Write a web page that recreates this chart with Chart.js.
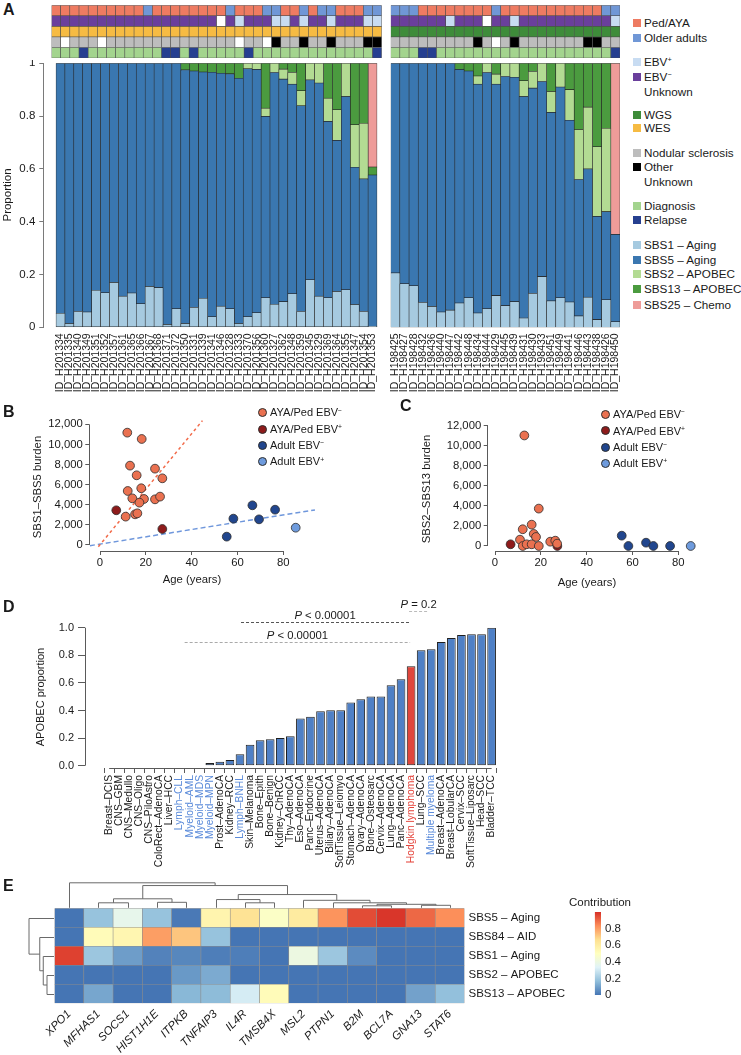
<!DOCTYPE html>
<html>
<head>
<meta charset="utf-8">
<title>Mutational signatures in Hodgkin lymphoma</title>
<script src="https://cdn.jsdelivr.net/npm/chart.js@4/dist/chart.umd.min.js"></script>
<style>
  body { margin: 0; background: #fff; }
  #page { position: relative; width: 741px; height: 1055px; overflow: hidden;
          font-family: "Liberation Sans", Arial, Helvetica, sans-serif; color: #1a1a1a; }
  #page canvas { position: absolute; }
  .t { position: absolute; white-space: nowrap; line-height: 1; }
  .t sup { font-size: 0.62em; vertical-align: 0; position: relative; top: -0.55em; }
  .sw { position: absolute; width: 8px; height: 8px; }
  .dot { position: absolute; width: 9px; height: 9px; border-radius: 50%;
         border: 0.8px solid #2d2d2d; box-sizing: border-box; }
</style>
</head>
<body>
<div id="page"></div>
<script>
// ---------- A: signature proportions per sample ----------
const leftIds = ['ID_H201334','ID_H201335','ID_H201340','ID_H201349','ID_H201351','ID_H201352','ID_H201357','ID_H201361','ID_H201365','ID_H201366','ID_H201367','ID_H201368','ID_H201371','ID_H201372','ID_H201350','ID_H201331','ID_H201339','ID_H201341','ID_H201346','ID_H201328','ID_H201333','ID_H201370','ID_H201356','ID_H201360','ID_H201327','ID_H201362','ID_H201348','ID_H201359','ID_H201345','ID_H201329','ID_H201369','ID_H201364','ID_H201355','ID_H201347','ID_H201354','ID_H201353'];
const leftSBS1  = [0.053,0.014,0.060,0.058,0.140,0.131,0.170,0.118,0.130,0.089,0.155,0.150,0.011,0.070,0.014,0.075,0.110,0.040,0.080,0.070,0.014,0.040,0.055,0.112,0.087,0.097,0.127,0.060,0.180,0.118,0.112,0.136,0.142,0.086,0.060,0.004];
const leftSBS5  = [0.947,0.986,0.940,0.942,0.860,0.869,0.830,0.882,0.870,0.911,0.845,0.850,0.989,0.930,0.961,0.896,0.857,0.926,0.882,0.890,0.929,0.939,0.922,0.687,0.878,0.843,0.794,0.779,0.757,0.807,0.668,0.572,0.732,0.520,0.502,0.573];
const leftSBS2  = [0,0,0,0,0,0,0,0,0,0,0,0,0,0,0,0,0,0,0,0,0,0.021,0.023,0.031,0.035,0.038,0.044,0.057,0.063,0.075,0.088,0.116,0.126,0.161,0.211,0];
const leftSBS13 = [0,0,0,0,0,0,0,0,0,0,0,0,0,0,0.025,0.029,0.033,0.034,0.038,0.040,0.057,0,0,0.170,0,0.022,0.035,0.104,0,0,0.132,0.176,0,0.233,0.227,0.030];
const leftSBS25 = [0,0,0,0,0,0,0,0,0,0,0,0,0,0,0,0,0,0,0,0,0,0,0,0,0,0,0,0,0,0,0,0,0,0,0,0.393];

const rightIds = ['ID_H198425','ID_H198427','ID_H198428','ID_H198432','ID_H198436','ID_H198440','ID_H198447','ID_H198442','ID_H198448','ID_H198434','ID_H198444','ID_H198429','ID_H198445','ID_H198439','ID_H198431','ID_H198430','ID_H198433','ID_H198451','ID_H198449','ID_H198441','ID_H198446','ID_H198443','ID_H198438','ID_H198426','ID_H198450'];
const rightSBS1  = [0.206,0.165,0.157,0.094,0.079,0.058,0.065,0.092,0.112,0.054,0.070,0.120,0.082,0.097,0.035,0.128,0.192,0.100,0.112,0.096,0.043,0.114,0.029,0.104,0.021];
const rightSBS5  = [0.794,0.835,0.843,0.906,0.921,0.942,0.935,0.885,0.859,0.867,0.895,0.801,0.868,0.850,0.839,0.778,0.739,0.714,0.798,0.688,0.517,0.486,0.391,0.334,0.331];
const rightSBS2  = [0,0,0,0,0,0,0,0,0,0.031,0.035,0.038,0.050,0.053,0.060,0.063,0.069,0.079,0.090,0.116,0.189,0.234,0.264,0.316,0];
const rightSBS13 = [0,0,0,0,0,0,0,0.023,0.029,0.048,0,0.041,0,0,0.066,0.031,0,0.107,0,0.100,0.251,0.166,0.316,0.246,0];
const rightSBS25 = [0,0,0,0,0,0,0,0,0,0,0,0,0,0,0,0,0,0,0,0,0,0,0,0,0.648];

// annotation tracks, one letter per sample
// age: P = Ped/AYA, O = older adult; ebv: n = EBV-, p = EBV+, u = unknown
// seq: E = WES, G = WGS; hist: n = nodular sclerosis, o = other, u = unknown; time: d = diagnosis, r = relapse
const leftAge  = 'PPPPPPPPPPOPPPPPPPPOPPPOOPPOPOOPPPOO';
const leftEbv  = 'nnnnnnnnnnnnnnnnnnunpnnnppnpnnpnnnpp';
const leftSeq  = 'EEEEEEEEEEEEEEEEEEEEEEEEEEEEEEEEEEEE';
const leftHist = 'nunnnunnnnnnnnnnnnnnunnuonnonnonnnoo';
const leftTime = 'dddrddddddddrrdrdddddrdddddddddddddr';
const rightAge  = 'OOOPPPPPPPPOPPPPPPPPPPPOO';
const rightEbv  = 'nnnnnnpnnnunnpnnnnnnnnnnp';
const rightSeq  = 'GGGGGGGGGGGGGGGGGGGGGGGGG';
const rightHist = 'nnnnnnnnnonunonnnnnnnoonn';
const rightTime = 'dddrrdddddddddddddddddddr';

// ---------- B / C: burden vs age ----------
const bAyaNegAge = [11.9,18.2,13.1,16,24,27.2,18,12.1,14.1,19.2,17.2,24,26.2,11.2,15.3,16.3];
const bAyaNegVal = [11170,10540,7890,6930,7590,6630,5640,5370,4640,4575,4210,4540,4810,2820,3050,3150];
const bAyaPosAge = [7.1,27.2];
const bAyaPosVal = [3450,1590];
const bAdultNegAge = [55.3,58.2,66.5,69.4,76.4];
const bAdultNegVal = [830,2620,3945,2550,3510];
const bAdultPosAge = [85.4];
const bAdultPosVal = [1720];
const bAyaFitAge = [-0.7,44.7];
const bAyaFitVal = [-165,12365];
const bAdultFitAge = [-4.4,93.8];
const bAdultFitVal = [-66,3480];

const cAyaNegAge = [12.8,19.1,16,12.1,16.9,17.9,10.9,12.1,13.8,16,19.1,24.1,26.3,27.1];
const cAyaNegVal = [11030,3730,2130,1670,1200,900,630,0,170,170,0,430,530,230];
const cAyaPosAge = [6.8,27.2];
const cAyaPosVal = [170,0];
const cAdultNegAge = [55.3,58.2,65.9,69.1,76.4];
const cAdultNegVal = [1030,0,330,0,0];
const cAdultPosAge = [85.4];
const cAdultPosVal = [0];

const ageTicks = [0,20,40,60,80];
const burdenTicks = [0,2000,4000,6000,8000,10000,12000];

// ---------- D: APOBEC proportion by tumour type ----------
const dCats = ['Breast–DCIS','CNS–GBM','CNS–Medullo','CNS–Oligo','CNS–PiloAstro','ColoRect–AdenoCA','Liver–HCC','Lymph–CLL','Myeloid–AML','Myeloid–MDS','Myeloid–MPN','Prost–AdenoCA','Kidney–RCC','Lymph–BNHL','Skin–Melanoma','Bone–Epith','Bone–Benign','Kidney–ChRCC','Thy–AdenoCA','Eso–AdenoCA','Panc–Endocrine','Uterus–AdenoCA','Biliary–AdenoCA','SoftTissue–Leiomyo','Stomach–AdenoCA','Ovary–AdenoCA','Bone–Osteosarc','Cervix–AdenoCA','Lung–AdenoCA','Panc–AdenoCA','Hodgkin lymphoma','Lung–SCC','Multiple myeloma','Breast–AdenoCA','Breast–LobularCA','Cervix–SCC','SoftTissue–Liposarc','Head–SCC','Bladder–TCC'];
const dValues = [0,0,0,0,0,0,0,0,0,0,0.019,0.029,0.041,0.082,0.152,0.184,0.191,0.200,0.213,0.341,0.355,0.394,0.401,0.401,0.457,0.481,0.502,0.502,0.582,0.626,0.720,0.836,0.843,0.896,0.925,0.947,0.952,0.952,1.0];
// s = solid, m = haematological, h = Hodgkin lymphoma
const dType = 'sssssss' + 'mmmm' + 'ss' + 'm' + 'ssssssssssssssss' + 'h' + 's' + 'm' + 'ssssss';
const dTicks = [0,0.2,0.4,0.6,0.8,1.0];
const pLabel = ['P < 0.00001','P < 0.00001','P = 0.2'];
const pFrom  = [13.1,7.5,29.8];
const pTo    = [29.8,29.9,31.7];
const pLevel = [1.043,0.899,1.121];
const pColor = ['#555555','#aaaaaa','#bbbbbb'];

// ---------- E: contribution heatmap ----------
const genes = ['XPO1','MFHAS1','SOCS1','HIST1H1E','ITPKB','TNFAIP3','IL4R','TMSB4X','MSL2','PTPN1','B2M','BCL7A','GNA13','STAT6'];
const heatRows = ['SBS5 – Aging','SBS84 – AID','SBS1 – Aging','SBS2 – APOBEC','SBS13 – APOBEC'];
const hSBS5  = [0.00,0.18,0.37,0.18,0.01,0.56,0.65,0.48,0.61,0.82,0.95,0.99,0.90,0.83];
const hSBS84 = [0.00,0.52,0.55,0.80,0.72,0.18,0,0,0,0,0,0,0,0];
const hSBS1  = [0.97,0.19,0.09,0.03,0.04,0.02,0.02,0,0.40,0.19,0.05,0,0,0];
const hSBS2  = [0,0,0,0,0.08,0.12,0,0,0,0,0,0,0,0];
const hSBS13 = [0,0.11,0,0,0.15,0.16,0.31,0.52,0,0,0,0,0.10,0.17];
const legendTicks = [0,0.2,0.4,0.6,0.8];
// dendrograms, hclust style: negative = leaf (1-based), positive = earlier merge
const colMerges = [[-11,-12,0.08],[-13,-14,0.10],[1,2,0.14],[-10,3,0.20],[-9,4,0.30],[-7,-8,0.20],[-6,6,0.33],[7,5,0.53],[-2,-3,0.20],[-4,-5,0.22],[9,10,0.36],[11,8,0.89],[-1,12,1.0]];
const rowMerges = [[-4,-5,0.28],[-3,1,0.43],[-2,2,0.57],[-1,3,1.0]];

// ---------- styling ----------
const FONT = '"Liberation Sans", Arial, Helvetica, sans-serif';
Chart.defaults.font.family = FONT;
Chart.defaults.font.size = 11;
Chart.defaults.color = '#1a1a1a';
Chart.defaults.animation = false;
Chart.defaults.responsive = false;
Chart.defaults.devicePixelRatio = 1;
Chart.defaults.plugins.legend.display = false;
Chart.defaults.plugins.tooltip.enabled = false;

const sigCol = {SBS1:'#A6CAE0', SBS5:'#3A77B0', SBS2:'#B3DB93', SBS13:'#4B9B3F', SBS25:'#EE9C99'};
const ageCol = {P:'#EE7B62', O:'#7097D6'};
const ebvCol = {p:'#C8DCF2', n:'#6A3F9C', u:'#FFFFFF'};
const seqCol = {G:'#3E8C3A', E:'#F6BB43'};
const histCol = {n:'#BDBDBD', o:'#000000', u:'#FFFFFF'};
const timeCol = {d:'#A3D48E', r:'#263F90'};
const grpCol = {ayaNeg:'#EA7150', ayaPos:'#8E1B1B', adultNeg:'#21468E', adultPos:'#6E9BDD'};
const heatStops = ['#4575B4','#91BFDB','#E0F3F8','#FFFFBF','#FEE090','#FC8D59','#D73027'];

const page = document.getElementById('page');

function place(l, t, w, h) {
  const c = document.createElement('canvas');
  c.width = w; c.height = h;
  c.style.left = l + 'px'; c.style.top = t + 'px';
  c.style.width = w + 'px'; c.style.height = h + 'px';
  page.appendChild(c);
  return c;
}
// force an axis to a fixed thickness so the plot area lands where it should
function fit(size) {
  return s => {
    if (s.isHorizontal()) s.height = size; else s.width = size;
    s.paddingLeft = 0; s.paddingRight = 0; s.paddingTop = 0; s.paddingBottom = 0;
  };
}
function setTicks(vals) {
  return s => { s.ticks = vals.map(v => ({value: v})); };
}
const hiddenAxis = size => ({display: true, afterFit: fit(size), ticks: {display: false},
  grid: {display: false, drawTicks: false}, border: {display: false}});
const opts = (pad, scales, plugins) => ({
  responsive: false, animation: false, devicePixelRatio: 1,
  layout: {autoPadding: false, padding: pad},
  plugins: Object.assign({legend: {display: false}, tooltip: {enabled: false}}, plugins || {}),
  scales: scales
});

function hex(c) { return [1,3,5].map(i => parseInt(c.slice(i, i + 2), 16)); }
function heatColor(v) {
  const t = Math.max(0, Math.min(1, v)) * 6, i = Math.min(5, Math.floor(t)), f = t - i;
  const a = hex(heatStops[i]), b = hex(heatStops[i + 1]);
  return 'rgb(' + a.map((x, k) => Math.round(x + (b[k] - x) * f)).join(',') + ')';
}

// R style axis lines that run only from first to last tick
const rAxes = {
  id: 'rAxes',
  afterDraw(chart, args, o) {
    const {ctx, chartArea: a, scales: {x, y}} = chart;
    const al = p => Math.round(p - 0.5) + 0.5;
    ctx.save();
    ctx.strokeStyle = o.color || '#5a5a5a'; ctx.lineWidth = 1;
    ctx.beginPath();
    ctx.moveTo(x.getPixelForValue(o.x[0]), al(a.bottom)); ctx.lineTo(x.getPixelForValue(o.x[1]), al(a.bottom));
    ctx.moveTo(al(a.left), y.getPixelForValue(o.y[0])); ctx.lineTo(al(a.left), y.getPixelForValue(o.y[1]));
    ctx.stroke();
    ctx.restore();
  }
};

// ---------- panel A ----------
function sigSets(s1, s5, s2, s13, s25) {
  return [
    {label:'SBS1 – Aging', data:s1, backgroundColor:sigCol.SBS1},
    {label:'SBS5 – Aging', data:s5, backgroundColor:sigCol.SBS5},
    {label:'SBS2 – APOBEC', data:s2, backgroundColor:sigCol.SBS2},
    {label:'SBS13 – APOBEC', data:s13, backgroundColor:sigCol.SBS13},
    {label:'SBS25 – Chemo', data:s25, backgroundColor:sigCol.SBS25}
  ].map(d => Object.assign(d, {borderColor:'#262626', borderWidth:0.6, borderSkipped:false,
                               barPercentage:1, categoryPercentage:1}));
}
function trackSets(tracks) {
  const maps = [ageCol, ebvCol, seqCol, histCol, timeCol];
  return tracks.map((s, k) => ({
    data: s.split('').map(() => 1),
    backgroundColor: s.split('').map(c => maps[k][c]),
    borderColor: '#4d4d4d', borderWidth: 0.6, borderSkipped: false,
    barPercentage: 1, categoryPercentage: 1
  })).reverse();
}
const idTicks = {autoSkip:false, maxRotation:90, minRotation:90, padding:6, font:{size:10.5}};
const propTicks = [0,0.2,0.4,0.6,0.8,1];

// left cohort bars (linear x so the axis can stand off the first bar)
new Chart(place(0, 60, 386, 340), {
  type: 'bar',
  data: {labels: leftIds.map((_, i) => i), datasets: sigSets(leftSBS1, leftSBS5, leftSBS2, leftSBS13, leftSBS25)},
  options: opts({left:0, top:3.3, right:4.3, bottom:0}, {
    x: {type:'linear', stacked:true, min:-1.4, max:35.5, afterFit:fit(72.7), afterBuildTicks:setTicks(leftIds.map((_, i) => i)),
        grid:{display:false, drawTicks:false}, border:{display:false},
        ticks:Object.assign({callback: v => leftIds[v]}, idTicks)},
    y: {stacked:true, min:0, max:1, afterFit:fit(43.3), afterBuildTicks:setTicks(propTicks),
        grid:{drawOnChartArea:false, tickLength:4, color:'#7a7a7a'}, border:{color:'#7a7a7a'},
        ticks:{padding:4, font:{size:11.5}, callback: v => (v === 0 || v === 1) ? String(v) : v.toFixed(1)}}
  })
});
// right cohort bars
new Chart(place(386, 60, 240, 340), {
  type: 'bar',
  data: {labels: rightIds, datasets: sigSets(rightSBS1, rightSBS5, rightSBS2, rightSBS13, rightSBS25)},
  options: opts({left:0, top:3.3, right:6, bottom:0}, {
    x: {stacked:true, afterFit:fit(72.7), grid:{display:false, drawTicks:false}, border:{display:false}, ticks:idTicks},
    y: Object.assign({stacked:true, min:0, max:1}, hiddenAxis(4.7))
  })
});
// annotation tracks
new Chart(place(40, 0, 346, 60), {
  type: 'bar',
  data: {labels: leftIds, datasets: trackSets([leftAge, leftEbv, leftSeq, leftHist, leftTime])},
  options: opts({left:0, top:5.3, right:4.3, bottom:0}, {
    x: Object.assign({stacked:true}, hiddenAxis(2)),
    y: Object.assign({stacked:true, min:0, max:5}, hiddenAxis(11.5))
  })
});
new Chart(place(386, 0, 240, 60), {
  type: 'bar',
  data: {labels: rightIds, datasets: trackSets([rightAge, rightEbv, rightSeq, rightHist, rightTime])},
  options: opts({left:0, top:5.3, right:6, bottom:0}, {
    x: Object.assign({stacked:true}, hiddenAxis(2)),
    y: Object.assign({stacked:true, min:0, max:5}, hiddenAxis(4.7))
  })
});

// ---------- panels B and C ----------
const pts = (ages, vals, color) => ({
  data: ages.map((a, i) => ({x: a, y: vals[i]})), backgroundColor: color,
  borderColor: '#2d2d2d', borderWidth: 0.8, pointRadius: 4.4, order: 0
});
const fitLine = (ages, vals, color, dash) => ({
  data: ages.map((a, i) => ({x: a, y: vals[i]})), showLine: true, borderColor: color,
  borderDash: dash, borderWidth: 1.5, pointRadius: 0, order: 5
});
function burdenScales(xmin, xmax, ymin, ymax, yw) {
  return {
    x: {type:'linear', min:xmin, max:xmax, afterFit:fit(24), afterBuildTicks:setTicks(ageTicks),
        grid:{drawOnChartArea:false, tickLength:4, color:'#5a5a5a'}, border:{display:false},
        ticks:{padding:1, font:{size:11.3}}},
    y: {type:'linear', min:ymin, max:ymax, afterFit:fit(yw), afterBuildTicks:setTicks(burdenTicks),
        grid:{drawOnChartArea:false, tickLength:4, color:'#5a5a5a'}, border:{display:false},
        ticks:{padding:2.5, font:{size:11.3}, callback: v => v.toLocaleString('en-US')}}
  };
}
new Chart(place(0, 400, 330, 175), {
  type: 'scatter',
  data: {datasets: [
    fitLine(bAyaFitAge, bAyaFitVal, '#F26B4A', [3, 3]),
    fitLine(bAdultFitAge, bAdultFitVal, '#6F97DC', [5, 3]),
    pts(bAyaNegAge, bAyaNegVal, grpCol.ayaNeg),
    pts(bAyaPosAge, bAyaPosVal, grpCol.ayaPos),
    pts(bAdultNegAge, bAdultNegVal, grpCol.adultNeg),
    pts(bAdultPosAge, bAdultPosVal, grpCol.adultPos)
  ]},
  options: opts({left:0, top:15, right:10, bottom:0}, burdenScales(-4.67, 96, -597, 12925, 89.3),
                {rAxes: {x:[0, 80], y:[0, 12000]}}),
  plugins: [rAxes]
});
new Chart(place(400, 400, 320, 175), {
  type: 'scatter',
  data: {datasets: [
    pts(cAyaNegAge, cAyaNegVal, grpCol.ayaNeg),
    pts(cAyaPosAge, cAyaPosVal, grpCol.ayaPos),
    pts(cAdultNegAge, cAdultNegVal, grpCol.adultNeg),
    pts(cAdultPosAge, cAdultPosVal, grpCol.adultPos)
  ]},
  options: opts({left:0, top:15, right:20, bottom:0}, burdenScales(-3.19, 89.45, -500, 13070, 87.7),
                {rAxes: {x:[0, 80], y:[0, 12000]}}),
  plugins: [rAxes]
});

// ---------- panel D ----------
const pLines = {
  id: 'pLines',
  afterDraw(chart) {
    const {ctx, scales: {x, y}} = chart;
    const f = '11.3px ' + FONT;
    pLabel.forEach((lab, i) => {
      const x0 = x.getPixelForValue(pFrom[i]), x1 = x.getPixelForValue(pTo[i]);
      const yy = Math.round(y.getPixelForValue(pLevel[i])) + 0.5;
      ctx.save();
      ctx.strokeStyle = pColor[i]; ctx.lineWidth = 1; ctx.setLineDash([3, 2]);
      ctx.beginPath(); ctx.moveTo(x0, yy); ctx.lineTo(x1, yy); ctx.stroke();
      const rest = lab.slice(1);
      ctx.font = 'italic ' + f; const wP = ctx.measureText('P').width;
      ctx.font = f; const wR = ctx.measureText(rest).width;
      const xs = (x0 + x1) / 2 - (wP + wR) / 2;
      ctx.fillStyle = '#1a1a1a'; ctx.textBaseline = 'alphabetic';
      ctx.font = 'italic ' + f; ctx.fillText('P', xs, yy - 3.5);
      ctx.font = f; ctx.fillText(rest, xs + wP, yy - 3.5);
      ctx.restore();
    });
  }
};
const typeCol = {s:'#1a1a1a', m:'#5B8BDA', h:'#E5433A'};
new Chart(place(0, 590, 520, 290), {
  type: 'bar',
  data: {labels: dCats.map((_, i) => i), datasets: [{
    data: dValues,
    backgroundColor: dCats.map((_, i) => dType[i] === 'h' ? '#E0463C' : '#4F80C6'),
    borderColor: '#1f1f1f', borderWidth: 1, borderSkipped: false,
    barPercentage: 0.86, categoryPercentage: 1
  }]},
  options: opts({left:0, top:37.7, right:18, bottom:0}, {
    x: {type:'linear', min:-1.87, max:38.5, afterFit:fit(112), afterBuildTicks:setTicks(dCats.map((_, i) => i)),
        grid:{drawOnChartArea:false, tickLength:5, color:'#5a5a5a'}, border:{display:false},
        ticks:{autoSkip:false, maxRotation:90, minRotation:90, padding:2, font:{size:10.3},
               color: c => typeCol[dType[c.index]] || '#1a1a1a', callback: v => dCats[v]}},
    y: {min:-0.017, max:1.0, afterFit:fit(85), afterBuildTicks:setTicks(dTicks),
        grid:{drawOnChartArea:false, tickLength:7, color:'#5a5a5a'}, border:{display:false},
        ticks:{padding:4, font:{size:11}, callback: v => v.toFixed(1)}}
  }, {rAxes: {x:[0, 38], y:[0, 1]}}),
  plugins: [rAxes, pLines]
});

// ---------- panel E ----------
function drawTree(ctx, merges, pos, lev, top) {
  const nodes = [];
  const node = k => k < 0 ? {p: pos(-k - 1), h: lev(0)} : nodes[k - 1];
  ctx.beginPath();
  merges.forEach(([a, b, h]) => {
    const na = node(a), nb = node(b), hh = lev(h);
    if (top) {
      ctx.moveTo(na.p, na.h); ctx.lineTo(na.p, hh); ctx.lineTo(nb.p, hh); ctx.lineTo(nb.p, nb.h);
    } else {
      ctx.moveTo(na.h, na.p); ctx.lineTo(hh, na.p); ctx.lineTo(hh, nb.p); ctx.lineTo(nb.h, nb.p);
    }
    nodes.push({p: (na.p + nb.p) / 2, h: hh});
  });
  ctx.stroke();
}
const dendro = {
  id: 'dendro',
  afterDraw(chart, args, o) {
    const {ctx, chartArea: a, scales: {x, y}} = chart;
    ctx.save();
    ctx.lineWidth = 1; ctx.strokeStyle = '#6a6a6a';
    drawTree(ctx, o.cols, i => Math.round(x.getPixelForValue(i)) + 0.5, h => a.top - 0.5 - h * o.size, true);
    drawTree(ctx, o.rows, r => Math.round(y.getPixelForValue(4.5 - r)) + 0.5, h => a.left - 0.5 - h * o.size, false);
    ctx.restore();
  }
};
const heatVals = [hSBS5, hSBS84, hSBS1, hSBS2, hSBS13];
new Chart(place(0, 870, 741, 185), {
  type: 'bar',
  data: {labels: genes, datasets: heatRows.map((name, r) => ({
    label: name, data: genes.map(() => 1),
    backgroundColor: heatVals[r].map(heatColor),
    borderColor: '#8c8c8c', borderWidth: 0.6, borderSkipped: false,
    barPercentage: 1, categoryPercentage: 1
  })).reverse()},
  options: opts({left:54.5, top:38.3, right:0, bottom:0}, {
    x: {stacked:true, afterFit:fit(51.7), grid:{display:false, drawTicks:false}, border:{display:false},
        ticks:{autoSkip:false, maxRotation:45, minRotation:45, padding:4, font:{size:11.5, style:'italic'}}},
    y: {stacked:true, position:'right', min:0, max:5, afterFit:fit(276.5),
        afterBuildTicks:setTicks([0.5,1.5,2.5,3.5,4.5]),
        grid:{display:false, drawTicks:false}, border:{display:false},
        ticks:{padding:4, font:{size:11.5}, callback: v => heatRows[Math.round(4.5 - v)]}}
  }, {dendro: {cols: colMerges, rows: rowMerges, size: 25}}),
  plugins: [dendro]
});
// colour key
new Chart(place(586, 900, 60, 105), {
  type: 'bar',
  data: {labels: [''], datasets: [{
    data: [[0, 1]], borderWidth: 0, barPercentage: 1, categoryPercentage: 1,
    backgroundColor: c => {
      const a = c.chart.chartArea;
      if (!a) return heatStops[0];
      const g = c.chart.ctx.createLinearGradient(0, a.bottom, 0, a.top);
      heatStops.forEach((s, i) => g.addColorStop(i / 6, s));
      return g;
    }
  }]},
  options: opts({left:8.8, top:12, right:0, bottom:0}, {
    x: hiddenAxis(10),
    y: {position:'right', min:0, max:1, afterFit:fit(45), afterBuildTicks:setTicks(legendTicks),
        grid:{display:false, drawTicks:false}, border:{display:false},
        ticks:{padding:4, font:{size:11.5}, callback: v => v === 0 ? '0' : v.toFixed(1)}}
  })
});

// ---------- text: panel letters, titles, legends ----------
function txt(html, x, y, o) {
  o = o || {};
  const d = document.createElement('div');
  d.className = 't';
  d.innerHTML = html;
  d.style.left = x + 'px'; d.style.top = y + 'px';
  d.style.fontSize = (o.size || 11.3) + 'px';
  if (o.bold) d.style.fontWeight = 'bold';
  const ax = o.left ? '0' : '-50%';
  d.style.transform = 'translate(' + ax + ', -50%)' + (o.rot ? ' rotate(-90deg)' : '');
  page.appendChild(d);
}
[['A', 10], ['B', 412], ['D', 607], ['E', 886]].forEach(([l, y]) => txt(l, 3, y, {left: true, bold: true, size: 16}));
txt('C', 400, 405.5, {left: true, bold: true, size: 16});

txt('Proportion', 8, 195, {rot: true, size: 11.5});
txt('SBS1–SBS5 burden', 38, 487, {rot: true});
txt('Age (years)', 192, 580);
txt('SBS2–SBS13 burden', 427, 489, {rot: true});
txt('Age (years)', 587, 583);
txt('APOBEC proportion', 40, 697, {rot: true, size: 11});
txt('Contribution', 600, 903, {size: 11.5});

const legA = [
  [ageCol.P, 'Ped/AYA', 23], [ageCol.O, 'Older adults', 37.7],
  [ebvCol.p, 'EBV<sup>+</sup>', 62], [ebvCol.n, 'EBV<sup>−</sup>', 77], [null, 'Unknown', 92],
  [seqCol.G, 'WGS', 115], [seqCol.E, 'WES', 128.3],
  [histCol.n, 'Nodular sclerosis', 153], [histCol.o, 'Other', 167.3], [null, 'Unknown', 182],
  [timeCol.d, 'Diagnosis', 205.7], [timeCol.r, 'Relapse', 220],
  [sigCol.SBS1, 'SBS1 – Aging', 244.7], [sigCol.SBS5, 'SBS5 – Aging', 259.7],
  [sigCol.SBS2, 'SBS2 – APOBEC', 274.3], [sigCol.SBS13, 'SBS13 – APOBEC', 289],
  [sigCol.SBS25, 'SBS25 – Chemo', 304.7]
];
legA.forEach(([c, lab, y]) => {
  if (c) {
    const s = document.createElement('div');
    s.className = 'sw'; s.style.background = c;
    s.style.left = '633px'; s.style.top = (y - 4) + 'px';
    page.appendChild(s);
  }
  txt(lab, 644, y, {left: true, size: 11.7});
});

const legBC = [[grpCol.ayaNeg, 'AYA/Ped EBV<sup>−</sup>'], [grpCol.ayaPos, 'AYA/Ped EBV<sup>+</sup>'],
               [grpCol.adultNeg, 'Adult EBV<sup>−</sup>'], [grpCol.adultPos, 'Adult EBV<sup>+</sup>']];
function groupLegend(cx, tx, ys) {
  legBC.forEach(([c, lab], i) => {
    const d = document.createElement('div');
    d.className = 'dot'; d.style.background = c;
    d.style.left = (cx - 4.5) + 'px'; d.style.top = (ys[i] - 4.5) + 'px';
    page.appendChild(d);
    txt(lab, tx, ys[i], {left: true, size: 11});
  });
}
groupLegend(262.3, 270, [412.3, 429, 445, 461.3]);
groupLegend(605.7, 613, [414, 430.7, 447, 463]);
</script>
</body>
</html>
